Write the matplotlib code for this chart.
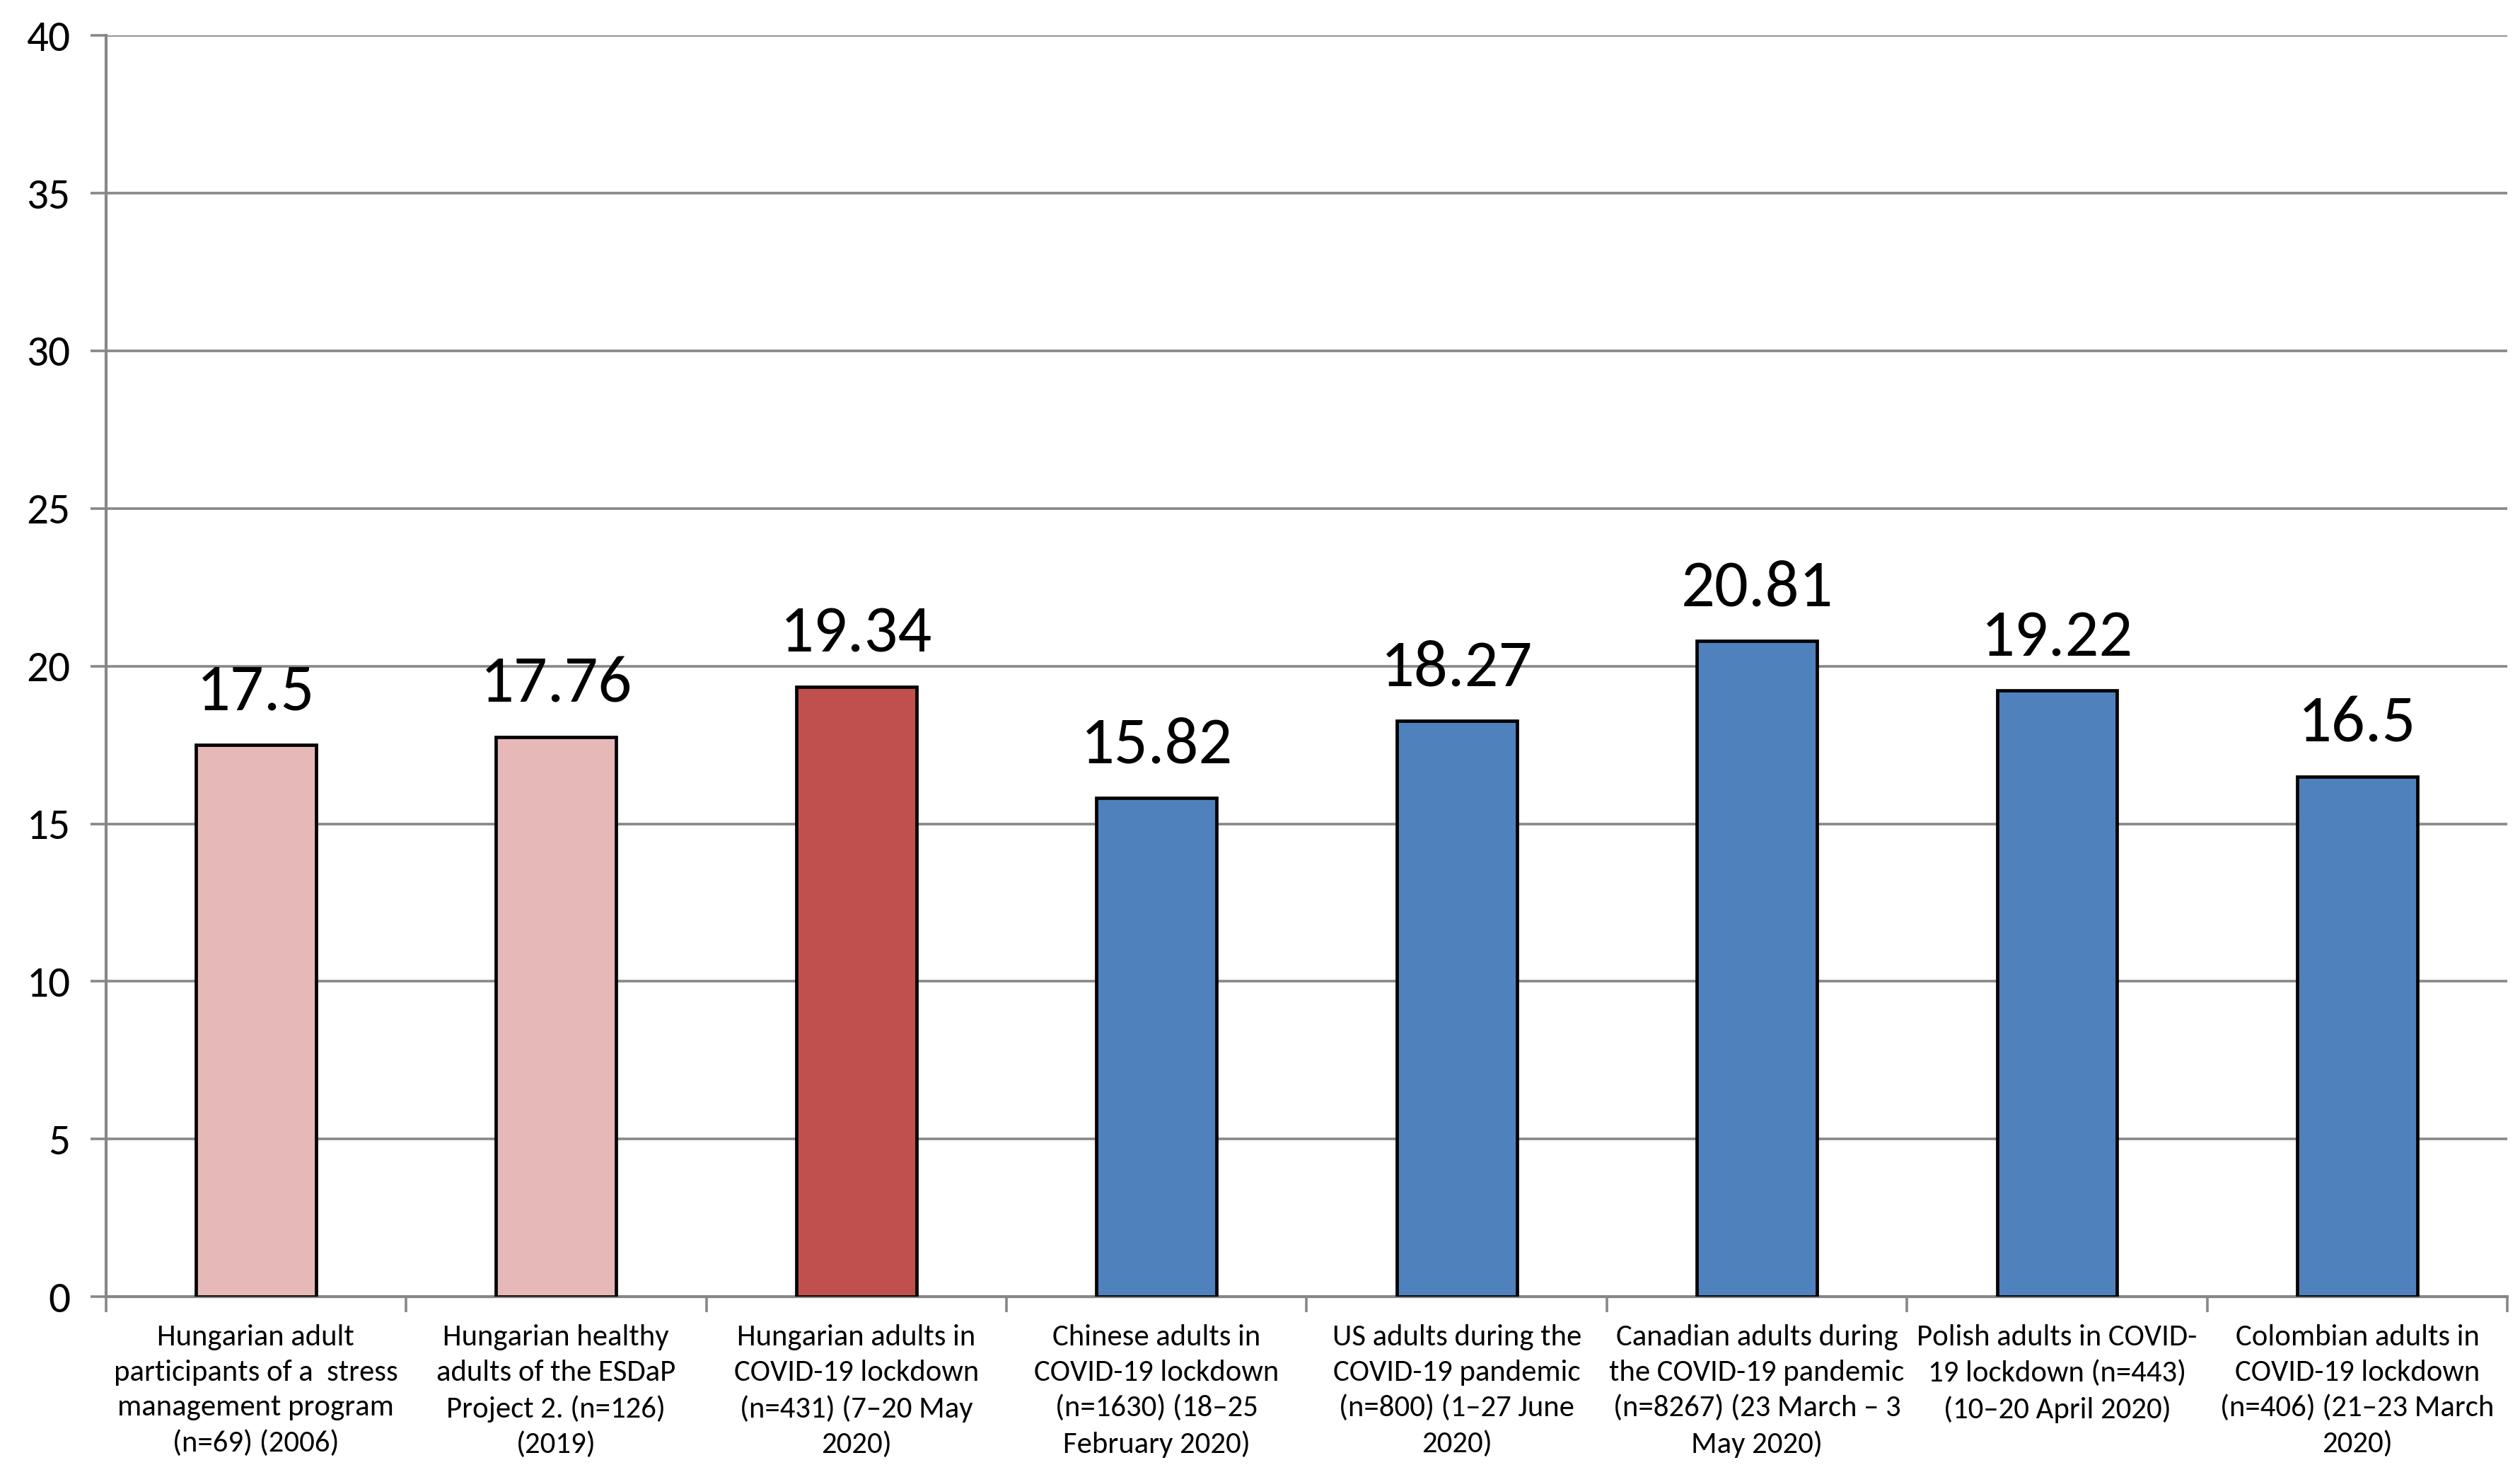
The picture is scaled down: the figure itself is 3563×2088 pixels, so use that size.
import matplotlib
matplotlib.use("Agg")
import matplotlib.pyplot as plt
from matplotlib.ticker import FixedLocator
from matplotlib import font_manager

categories = [
    "Hungarian adult\nparticipants of a  stress\nmanagement program\n(n=69) (2006)",
    "Hungarian healthy\nadults of the ESDaP\nProject 2. (n=126)\n(2019)",
    "Hungarian adults in\nCOVID-19 lockdown\n(n=431) (7\u201320 May\n2020)",
    "Chinese adults in\nCOVID-19 lockdown\n(n=1630) (18\u201325\nFebruary 2020)",
    "US adults during the\nCOVID-19 pandemic\n(n=800) (1\u201327 June\n2020)",
    "Canadian adults during\nthe COVID-19 pandemic\n(n=8267) (23 March \u2013 3\nMay 2020)",
    "Polish adults in COVID-\n19 lockdown (n=443)\n(10\u201320 April 2020)",
    "Colombian adults in\nCOVID-19 lockdown\n(n=406) (21\u201323 March\n2020)",
]
values = [17.5, 17.76, 19.34, 15.82, 18.27, 20.81, 19.22, 16.5]
value_labels = ["17.5", "17.76", "19.34", "15.82", "18.27", "20.81", "19.22", "16.5"]
bar_colors = ["#E6B9B8", "#E6B9B8", "#C0504D", "#4F81BD", "#4F81BD", "#4F81BD", "#4F81BD", "#4F81BD"]
y_ticks = [0, 5, 10, 15, 20, 25, 30, 35, 40]

names = {f.name for f in font_manager.fontManager.ttflist}
main_font = next((n for n in ['Carlito', 'Liberation Sans Narrow', 'Lato'] if n in names), 'DejaVu Sans')
plt.rcParams['font.family'] = [main_font, 'DejaVu Sans']

fig = plt.figure(figsize=(17.815, 10.44), dpi=200)
ax = fig.add_axes([0.042, 0.122, 0.953, 0.854])

grid_c = "#878787"
x = list(range(len(values)))
ax.set_axisbelow(True)
ax.yaxis.grid(True, color=grid_c, linewidth=1.3)
ax.bar(x, values, width=0.40, color=bar_colors, edgecolor="black", linewidth=1.7, zorder=3)

for xi, v, lab in zip(x, values, value_labels):
    ax.annotate(lab, (xi, v), xytext=(0, 12), textcoords="offset points",
                ha="center", va="bottom", fontsize=34, color="black")

ax.set_xlim(-0.5, len(values) - 0.5)
ax.set_ylim(0, 40)
ax.set_yticks(y_ticks)
ax.set_yticklabels([str(t) for t in y_ticks], fontsize=22)

ax.set_xticks(x)
ax.set_xticklabels(categories, fontsize=15.4, linespacing=1.42, va="top")
ax.xaxis.set_minor_locator(FixedLocator([i - 0.5 for i in range(len(values) + 1)]))
ax.tick_params(axis="x", which="major", length=0, pad=14)
ax.tick_params(axis="x", which="minor", length=8, width=1.3, color=grid_c)
ax.tick_params(axis="y", length=8, width=1.3, color=grid_c, pad=10)

for s in ["top", "right"]:
    ax.spines[s].set_visible(False)
for s in ["left", "bottom"]:
    ax.spines[s].set_color(grid_c)
    ax.spines[s].set_linewidth(1.5)

fig.savefig("out.png", dpi=200, facecolor="white")
